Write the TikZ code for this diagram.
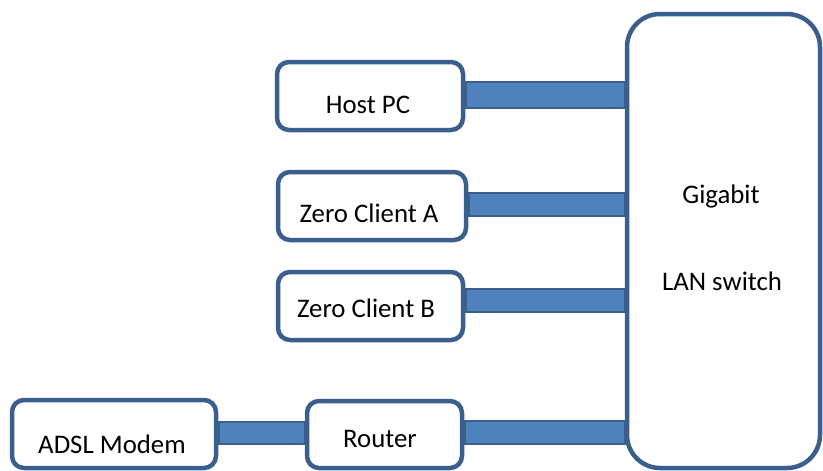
\documentclass[tikz,border=0pt]{standalone}
\usepackage{fontspec}
\setmainfont{Carlito}
\definecolor{edge}{HTML}{3A5F8D}
\definecolor{barfill}{HTML}{4F81BD}
\pgfdeclarelayer{bg}
\pgfsetlayers{bg,main}
\begin{document}
\begin{tikzpicture}[x=1pt,y=-1pt,
  box/.style={draw=edge,line width=4.5pt,fill=white,rounded corners=12pt,inner sep=0pt},
  bigbox/.style={box,rounded corners=33pt},
  lbl/.style={font=\fontsize{26.8}{32}\selectfont,inner sep=0pt,anchor=base},
  bar/.style={draw=edge,fill=barfill,line width=2.5pt}]
\useasboundingbox (0,0) rectangle (823,471);
% boxes
\node[box,minimum width=186pt,minimum height=68pt] (host) at (370,96) {};
\node[box,minimum width=188pt,minimum height=68pt] (za) at (372,206) {};
\node[box,minimum width=185pt,minimum height=68pt] (zb) at (370.5,306) {};
\node[box,minimum width=204pt,minimum height=68pt] (adsl) at (114,434) {};
\node[box,minimum width=155pt,minimum height=67pt] (router) at (384.5,434.5) {};
\node[bigbox,minimum width=193pt,minimum height=454pt] (sw) at (723.5,241) {};
% bars (behind the boxes)
\begin{pgfonlayer}{bg}
\draw[bar] ([yshift=14pt]host.east) rectangle ([yshift=-12pt]host.east -| sw.west);
\draw[bar] ([yshift=13pt]za.east) rectangle ([yshift=-10pt]za.east -| sw.west);
\draw[bar] ([yshift=17pt]zb.east) rectangle ([yshift=-6pt]zb.east -| sw.west);
\draw[bar] ([yshift=12pt]adsl.east) rectangle ([yshift=-10pt]adsl.east -| router.west);
\draw[bar] ([yshift=13.5pt]router.east) rectangle ([yshift=-9.5pt]router.east -| sw.west);
\end{pgfonlayer}
% labels
\node[lbl] (hostT) at (368,113) {Host PC};
\node[lbl] (zaT) at (369,222) {Zero Client A};
\node[lbl] (zbT) at (366,317) {Zero Client B};
\node[lbl] (adslT) at (112,453) {ADSL Modem};
\node[lbl] (routerT) at (380,447) {Router};
\node[lbl] (swT1) at (721,203) {Gigabit};
\node[lbl] (swT2) at (722,290) {LAN switch};
\end{tikzpicture}
\end{document}
